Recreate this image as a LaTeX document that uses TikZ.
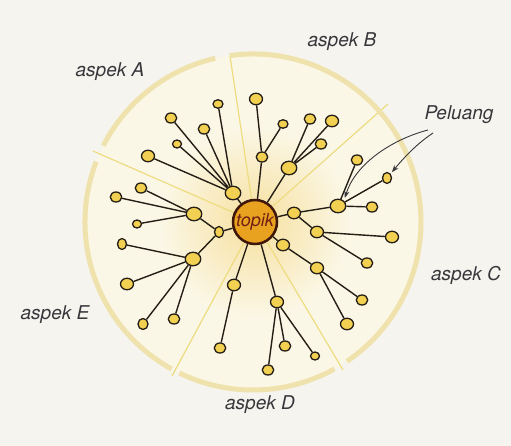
\documentclass[tikz,border=0pt]{standalone}
\usepackage{fontspec}
\setmainfont{TeX Gyre Heros}
\usetikzlibrary{arrows.meta,shapes.geometric}

\definecolor{paper}{RGB}{245,244,238}
\definecolor{disk}{RGB}{251,247,230}
\definecolor{glow}{RGB}{247,224,158}
\definecolor{rimc}{RGB}{240,226,172}
\definecolor{seam}{RGB}{238,220,128}
\definecolor{ink}{RGB}{36,30,22}
\definecolor{bud}{RGB}{242,208,82}
\definecolor{core}{RGB}{233,162,32}
\definecolor{coreedge}{RGB}{62,22,10}
\definecolor{coretext}{RGB}{110,30,22}
\definecolor{labelc}{RGB}{55,55,60}

\begin{document}
\begin{tikzpicture}[x=1pt,y=-1pt,>=Stealth,
  stem/.style={draw=ink,line width=1.4pt},
  leaf/.style={ellipse,draw=ink,line width=1.3pt,fill=bud,inner sep=0pt,
    minimum width=11.5pt,minimum height=10pt},
  twig/.style={leaf,minimum width=9pt,minimum height=8pt},
  joint/.style={leaf,minimum width=13pt,minimum height=11.5pt},
  hub/.style={leaf,minimum width=15.5pt,minimum height=13.5pt},
  aspectlabel/.style={text=labelc,font=\fontsize{19}{22}\selectfont\itshape},
  divider/.style={draw=seam,line width=1.2pt},
  ringarc/.style={draw=rimc,line width=5pt}]

  % paper and disk
  \fill[paper] (0,0) rectangle (511,446);
  \useasboundingbox (0,0) rectangle (511,446);
  \coordinate (ctr) at (253,222);
  \fill[disk] (ctr) circle[radius=168];
  \shade[inner color=glow,outer color=disk] (255,222) circle[radius=95];

  % dividers between the aspects
  \draw[divider] (255,222) -- (230,56);
  \draw[divider] (255,222) -- (93,151);
  \draw[divider] (255,222) -- (388,104);
  \draw[divider] (255,222) -- (343,370);
  \draw[divider] (255,222) -- (172,376);

  % outer ring, broken at the dividers
  \draw[ringarc] (ctr) ++(61:168) arc[start angle=61,end angle=116,radius=168];
  \draw[ringarc] (ctr) ++(119:168) arc[start angle=119,end angle=201,radius=168];
  \draw[ringarc] (ctr) ++(207:168) arc[start angle=207,end angle=257,radius=168];
  \draw[ringarc] (ctr) ++(262:168) arc[start angle=262,end angle=416,radius=168];

  \node[circle,draw=coreedge,line width=2.5pt,fill=core,minimum size=44pt,
    inner sep=0pt,text=coretext,font=\fontsize{18}{20}\selectfont\itshape]
    (topik) at (255,222) {topik};

  % aspek A
  \node[hub] (a0) at (233,193) {};
  \node[leaf,minimum width=10pt,minimum height=8.5pt] (a1) at (218,104) {};
  \node[leaf] (a2) at (171,118) {};
  \node[leaf] (a3) at (204,129) {};
  \node[twig] (a4) at (177,144) {};
  \node[joint] (a5) at (148,156) {};

  % aspek B
  \node[leaf] (b0) at (262,157) {};
  \node[joint] (b1) at (256,99) {};
  \node[leaf,minimum width=10pt,minimum height=8.5pt] (b2) at (283,124) {};
  \node[hub] (b3) at (289,168) {};
  \node[leaf] (b4) at (310,119) {};
  \node[joint] (b5) at (332,121) {};
  \node[leaf] (b6) at (321,144) {};

  % aspek C
  \node[joint] (c0) at (294,213) {};
  \node[hub] (c1) at (338,206) {};
  \node[leaf] (c2) at (357,160) {};
  \node[leaf,minimum width=9pt,minimum height=11pt] (c3) at (387,178) {};
  \node[leaf] (c4) at (372,207) {};
  \node[joint] (c5) at (317,232) {};
  \node[joint] (c6) at (392,237) {};
  \node[leaf] (c7) at (367,263) {};
  \node[joint] (c8) at (283,245) {};
  \node[joint] (c9) at (317,268) {};
  \node[leaf] (c10) at (362,300) {};
  \node[joint] (c11) at (347,324) {};

  % aspek D
  \node[joint] (d0) at (277,302) {};
  \node[leaf] (d1) at (268,370) {};
  \node[leaf] (d2) at (285,346) {};
  \node[twig] (d3) at (315,356) {};
  \node[joint] (d4) at (234,285) {};
  \node[leaf] (d5) at (220,348) {};

  % aspek E
  \node[twig,minimum width=9pt,minimum height=11pt] (e0) at (219,232) {};
  \node[hub] (e1) at (194,214) {};
  \node[leaf] (e2) at (141,188) {};
  \node[leaf] (e3) at (116,197) {};
  \node[twig] (e4) at (137,224) {};
  \node[hub] (e5) at (193,259) {};
  \node[leaf,minimum width=9pt,minimum height=11pt] (e6) at (122,244) {};
  \node[joint] (e7) at (127,284) {};
  \node[leaf,minimum width=10pt,minimum height=11pt] (e8) at (143,324) {};
  \node[leaf] (e9) at (174,319) {};

  \draw[stem] (topik) -- (a0) (a0) -- (a1) (a0) -- (a2) (a0) -- (a3)
    (a0) -- (a4) (a0) -- (a5);
  \draw[stem] (topik) -- (b0) (b0) -- (b1) (b0) -- (b2)
    (topik) -- (b3) (b3) -- (b4) (b3) -- (b5) (b3) -- (b6);
  \draw[stem] (topik) -- (c0) (c0) -- (c1) (c1) -- (c2) (c1) -- (c3) (c1) -- (c4)
    (c0) -- (c5) (c5) -- (c6) (c5) -- (c7)
    (topik) -- (c8) (c8) -- (c9) (c9) -- (c10) (c9) -- (c11);
  \draw[stem] (topik) -- (d0) (d0) -- (d1) (d0) -- (d2) (d0) -- (d3)
    (topik) -- (d4) (d4) -- (d5);
  \draw[stem] (topik) -- (e0) (e0) -- (e1) (e1) -- (e2) (e1) -- (e3) (e1) -- (e4)
    (e0) -- (e5) (e5) -- (e6) (e5) -- (e7) (e5) -- (e8) (e5) -- (e9);

  % labels
  \node[aspectlabel] (asA) at (110,72) {aspek A};
  \node[aspectlabel] (asB) at (342,42) {aspek B};
  \node[aspectlabel] (asC) at (466,275) {aspek C};
  \node[aspectlabel] (asD) at (260,405) {aspek D};
  \node[aspectlabel] (asE) at (55,315) {aspek E};
  \node[aspectlabel] (pel) at (459,115) {Peluang};

  \coordinate (p1) at (428,130);
  \coordinate (p2) at (433,133);
  \draw[->,draw=labelc,line width=0.9pt,shorten >=3pt]
    (p1) .. controls (390,140) and (355,165) .. (c1.north east);
  \draw[->,draw=labelc,line width=0.9pt,shorten >=2pt]
    (p2) .. controls (415,145) and (402,160) .. (c3.north east);
\end{tikzpicture}
\end{document}
